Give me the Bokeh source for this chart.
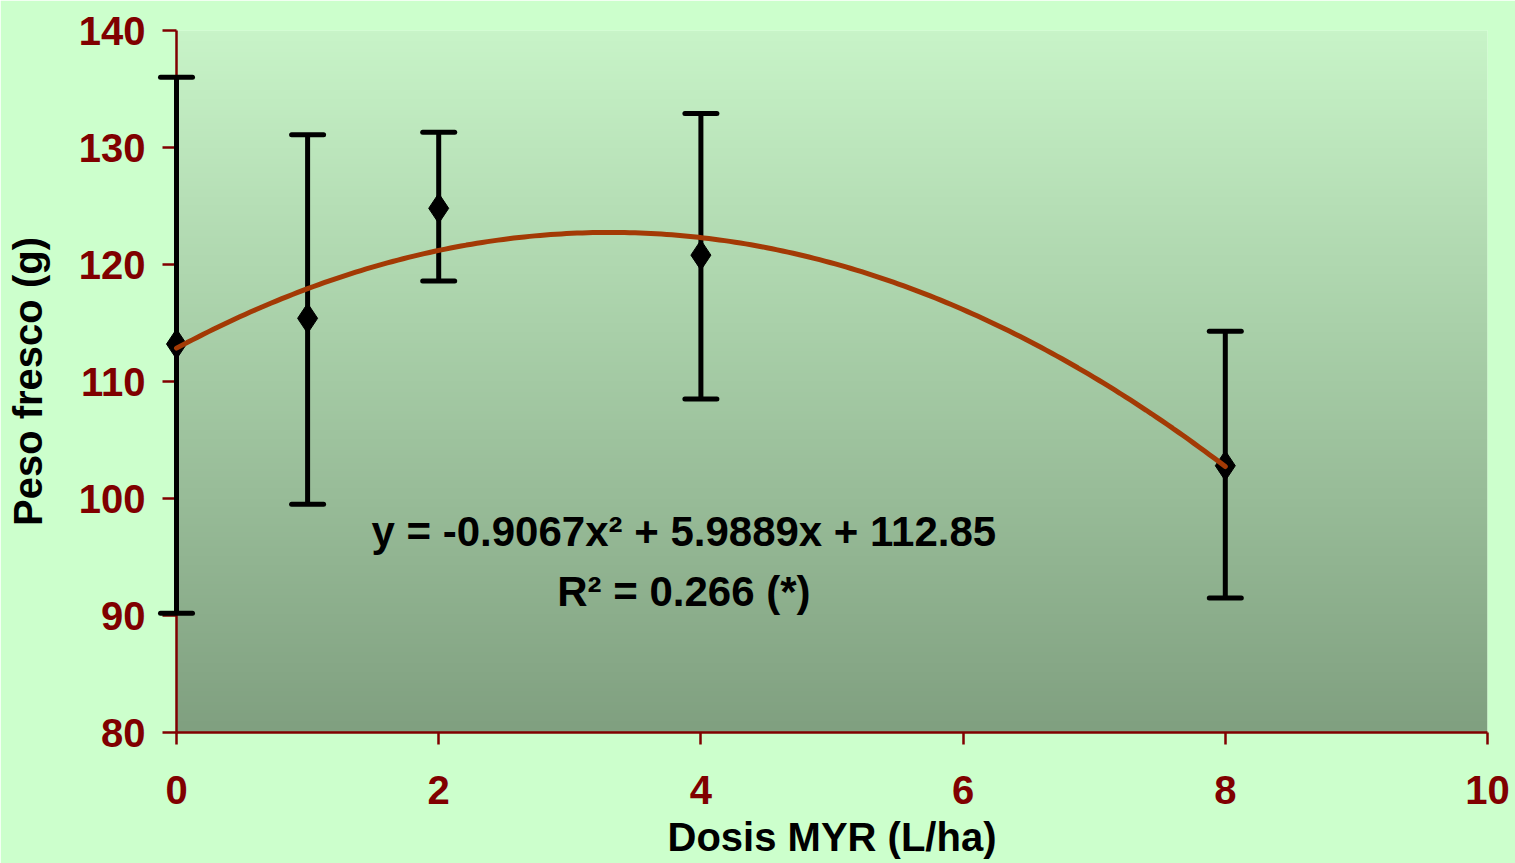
import numpy as np
from bokeh.plotting import figure
from bokeh.models import FixedTicker, Label, Range1d
from bokeh.embed import file_html
from bokeh.resources import INLINE

# ---- data ----
dose = [0, 1, 2, 4, 8]
peso = [113.2, 115.4, 124.8, 120.8, 102.8]
err_low = [90.2, 99.5, 118.6, 108.5, 91.5]
err_high = [136.0, 131.1, 131.3, 132.9, 114.3]
# printed trend line coefficients: y = a x^2 + b x + c
trend_coef = [-0.9067, 5.9889, 112.85]
x_ticks = [0, 2, 4, 6, 8, 10]
y_ticks = [80, 90, 100, 110, 120, 130, 140]

FONT = "Liberation Sans"
DARKRED = "#800000"
BG = "#CCFFCC"

p = figure(width=1515, height=863, output_backend="svg", toolbar_location=None,
           x_range=Range1d(0, 10), y_range=Range1d(80, 140),
           min_border_left=176, min_border_right=28, min_border_top=30, min_border_bottom=131)
p.background_fill_color = BG
p.border_fill_color = BG
p.outline_line_color = None
p.grid.visible = False

# gradient plot area
n = 256
top = np.array([200, 244, 200], dtype=float)
bot = np.array([128, 160, 128], dtype=float)
t = np.linspace(0, 1, n)[:, None]  # row 0 = bottom
cols = bot + (top - bot) * t
img = np.zeros((n, 1), dtype=np.uint32)
view = img.view(dtype=np.uint8).reshape((n, 1, 4))
view[:, 0, 0] = cols[:, 0].astype(np.uint8)
view[:, 0, 1] = cols[:, 1].astype(np.uint8)
view[:, 0, 2] = cols[:, 2].astype(np.uint8)
view[:, 0, 3] = 255
p.image_rgba(image=[img], x=0, y=80, dw=10, dh=60, level="image")

# error bars
p.segment(x0=dose, y0=err_low, x1=dose, y1=err_high, line_color="black", line_width=5,
          level="annotation")
p.scatter(x=dose + dose, y=err_low + err_high, marker="dash", size=32,
          line_color="black", line_width=5, line_cap="round", level="annotation")

# markers
p.scatter(x=dose, y=peso, marker="diamond", size=30, fill_color="black", line_color="black",
          level="annotation")

# trend line
xs = np.linspace(0, 8, 200)
ys = trend_coef[0] * xs ** 2 + trend_coef[1] * xs + trend_coef[2]
p.line(xs, ys, line_color="#A33A05", line_width=5, line_cap="round", level="annotation")

# equation text
p.add_layout(Label(x=3.87, y=97.2, text="y = -0.9067x\u00b2 + 5.9889x + 112.85",
                   text_font=FONT, text_font_style="bold", text_font_size="42px",
                   text_color="black", text_align="center", text_baseline="middle"))
p.add_layout(Label(x=3.87, y=92.05, text="R\u00b2 = 0.266 (*)",
                   text_font=FONT, text_font_style="bold", text_font_size="42px",
                   text_color="black", text_align="center", text_baseline="middle"))

# axes
for ax in (p.xaxis[0], p.yaxis[0]):
    ax.axis_line_color = DARKRED
    ax.axis_line_width = 2.5
    ax.major_tick_line_color = DARKRED
    ax.major_tick_line_width = 2.5
    ax.major_tick_in = 0
    ax.minor_tick_line_color = None
    ax.major_label_text_color = DARKRED
    ax.major_label_text_font = FONT
    ax.major_label_text_font_style = "bold"
    ax.major_label_text_font_size = "40px"
    ax.axis_label_text_font = FONT
    ax.axis_label_text_font_style = "bold"
    ax.axis_label_text_font_size = "40px"
    ax.axis_label_text_color = "black"

p.xaxis.ticker = FixedTicker(ticks=x_ticks)
p.yaxis.ticker = FixedTicker(ticks=y_ticks)
p.xaxis.major_tick_out = 12
p.yaxis.major_tick_out = 14
p.xaxis.major_label_standoff = 31
p.yaxis.major_label_standoff = 17
p.xaxis.axis_label = "Dosis MYR (L/ha)"
p.yaxis.axis_label = "Peso fresco (g)"
p.xaxis.axis_label_standoff = 8
p.yaxis.axis_label_standoff = 26

open("out.html", "w").write(file_html(p, INLINE))
